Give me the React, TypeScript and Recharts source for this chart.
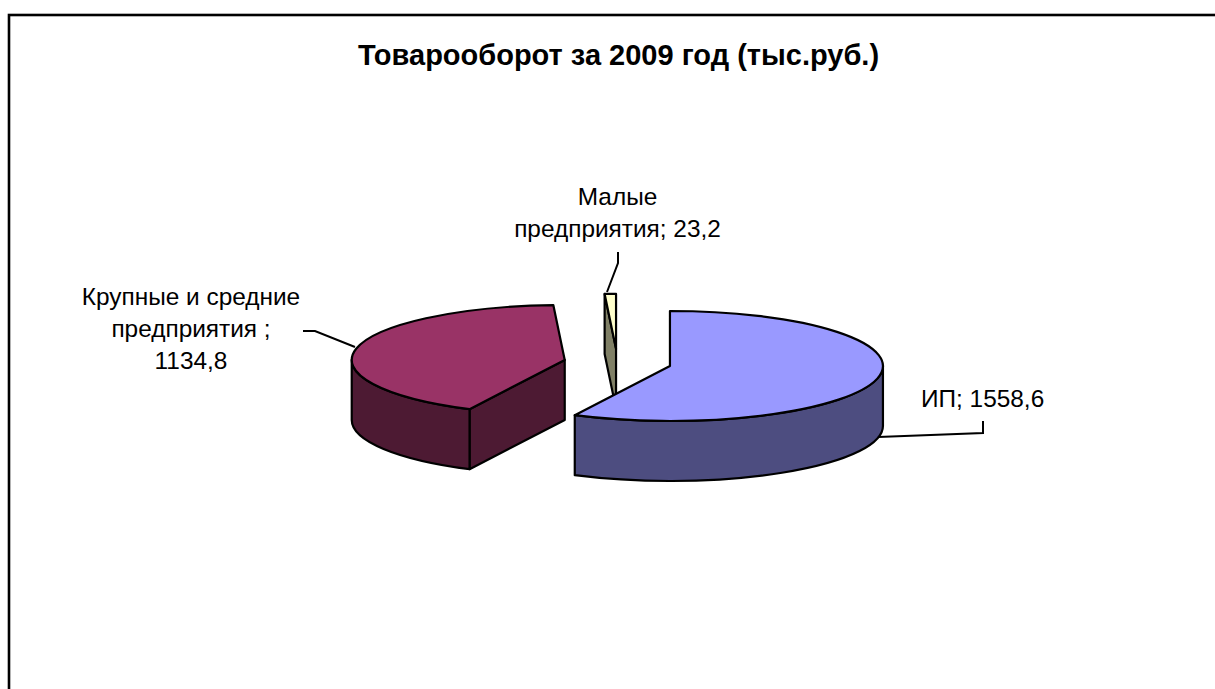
import React from "react";
import { PieChart, Pie } from "recharts";

// Reverse order with a counter-clockwise sweep gives the paint order the 3D view needs.
const categories = ["Малые предприятия", "Крупные и средние предприятия ", "ИП"];
const values = [23.2, 1134.8, 1558.6];
const topColors = ["#FFFFCC", "#993366", "#9999FF"];
const wallColors = ["#808066", "#4D1A33", "#4D4D80"];
const chartTitle = "Товарооборот за 2009 год (тыс.руб.)";

const labelLines = [
  ["Малые", "предприятия; 23,2"],
  ["Крупные и средние", "предприятия ;", "1134,8"],
  ["ИП; 1558,6"],
];
const labelAnchors = [
  { x: 617.5, y: 205, anchor: "middle" },
  { x: 191, y: 305, anchor: "middle" },
  { x: 921, y: 407, anchor: "start" },
];
const leaderPoints = [
  "618,252 618,263 607,292",
  "303,331 315,331 355,347",
  "983,421 983,433 878,437",
];

const WIDTH = 1215;
const HEIGHT = 689;
const TILT = 55 / 213;
const DEPTH = 60;
const EXPLODE = 0.253;
const FONT = "'Liberation Sans', Arial, sans-serif";

const rad = (d: number) => (d * Math.PI) / 180;

const tableData = categories.map((name, i) => ({ name, value: values[i], fill: topColors[i], wall: wallColors[i] }));

function Slice3D(props: any) {
  const { cx, cy, outerRadius: r, startAngle, endAngle, index } = props;
  const a0 = Math.min(startAngle, endAngle);
  const a1 = Math.max(startAngle, endAngle);
  const mid = (a0 + a1) / 2;
  const ox = cx + EXPLODE * r * Math.cos(rad(mid));
  const oy = cy - EXPLODE * r * TILT * Math.sin(rad(mid));
  const ry = r * TILT;
  const pt = (a: number, dy = 0) => [ox + r * Math.cos(rad(a)), oy - ry * Math.sin(rad(a)) + dy];
  const arc = (from: number, to: number, dy = 0, sweep = 0) => {
    const [x, y] = pt(to, dy);
    const large = Math.abs(to - from) > 180 ? 1 : 0;
    return `A ${r} ${ry} 0 ${large} ${sweep} ${x} ${y}`;
  };
  const style = { stroke: "#000", strokeWidth: 2.2, strokeLinejoin: "round" as const };
  const top = `M ${ox} ${oy} L ${pt(a0).join(" ")} ${arc(a0, a1)} Z`;

  const parts: React.ReactNode[] = [];
  const wall = tableData[index].wall;
  // radial cut face at the end of the sweep, visible when it faces the viewer
  if (Math.cos(rad(a1)) < -0.01) {
    const p = pt(a1);
    const q = pt(a1, DEPTH);
    parts.push(
      <path key="face" fill={wall} {...style}
        d={`M ${ox} ${oy} L ${p[0]} ${p[1]} L ${q[0]} ${q[1]} L ${ox} ${oy + DEPTH} Z`} />
    );
  }
  // outer rim: only the front half of the ellipse shows
  const w0 = Math.max(a0, 180);
  const w1 = Math.min(a1, 360);
  if (w1 > w0) {
    const s = pt(w0);
    const e = pt(w1, DEPTH);
    parts.push(
      <path key="rim" fill={wall} {...style}
        d={`M ${s[0]} ${s[1]} ${arc(w0, w1)} L ${e[0]} ${e[1]} ${arc(w1, w0, DEPTH, 1)} Z`} />
    );
  }
  return (
    <g>
      {parts}
      <path d={top} fill={tableData[index].fill} {...style} />
    </g>
  );
}

function SliceLabel(props: any) {
  const i = props.index;
  const a = labelAnchors[i];
  return (
    <g>
      <polyline points={leaderPoints[i]} fill="none" stroke="#000" strokeWidth={2} />
      {labelLines[i].map((line, k) => (
        <text key={k} x={a.x} y={a.y + k * 32} textAnchor={a.anchor as any}
          fontFamily={FONT} fontSize={24.4} fill="#000">
          {line}
        </text>
      ))}
    </g>
  );
}

export default function App() {
  return (
    <div style={{ position: "fixed", left: 0, top: 0, width: WIDTH, height: HEIGHT, overflow: "hidden", background: "#fff" }}>
      <PieChart width={WIDTH} height={HEIGHT} margin={{ top: 0, right: 0, bottom: 0, left: 0 }}>
        <rect x={9} y={15} width={1500} height={1000} fill="#fff" stroke="#000" strokeWidth={2.6} />
        <text x={618.5} y={65} textAnchor="middle" fontFamily={FONT} fontSize={29} fontWeight="bold" fill="#000">
          {chartTitle}
        </text>
        <Pie
          data={tableData}
          dataKey="value"
          nameKey="name"
          cx={617.5}
          cy={362.8}
          innerRadius={0}
          outerRadius={213}
          startAngle={90}
          endAngle={450}
          paddingAngle={0}
          isAnimationActive={false}
          shape={Slice3D}
          label={SliceLabel}
          labelLine={false}
        />
      </PieChart>
    </div>
  );
}
